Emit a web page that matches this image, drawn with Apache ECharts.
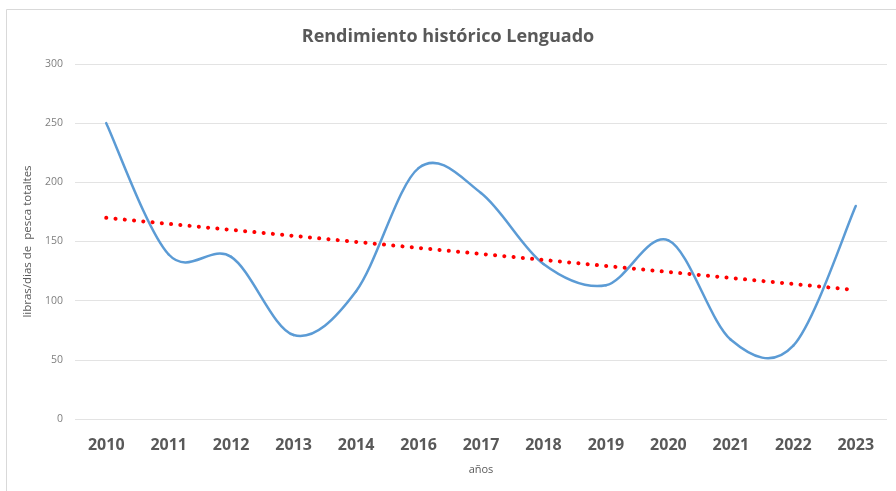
<!DOCTYPE html>
<html>
<head>
<meta charset="utf-8">
<script src="https://cdn.jsdelivr.net/npm/echarts@6/dist/echarts.min.js"></script>
<style>
  html, body { margin: 0; padding: 0; background: #fff; }
  #chart { width: 896px; height: 491px; }
</style>
</head>
<body>
<div id="chart"></div>
<script>
// Data
const years = ['2010', '2011', '2012', '2013', '2014', '2016', '2017', '2018', '2019', '2020', '2021', '2022', '2023'];
const rendimiento = [250, 139, 137, 71, 108, 212, 191, 131, 113, 151, 67, 62, 180];
// linear trend: value at first and last year
const trendEnds = [170, 109];
const yTicks = [0, 50, 100, 150, 200, 250, 300];

const trendData = years.map((y, i) => {
    if (i === 0) return trendEnds[0];
    if (i === years.length - 1) return trendEnds[1];
    return null;
});

// Excel-like smoothed line: one cubic bezier segment per pair of points
function renderSmoothSegment(params, api) {
    const i = params.dataIndex;
    const n = rendimiento.length;
    if (i >= n - 1) return null;
    const pt = k => {
        const j = Math.max(0, Math.min(n - 1, k));
        return api.coord([j, rendimiento[j]]);
    };
    const p0 = pt(i - 1), p1 = pt(i), p2 = pt(i + 1), p3 = pt(i + 2);
    return {
        type: 'bezierCurve',
        shape: {
            x1: p1[0], y1: p1[1],
            x2: p2[0], y2: p2[1],
            cpx1: p1[0] + (p2[0] - p0[0]) / 6,
            cpy1: p1[1] + (p2[1] - p0[1]) / 6,
            cpx2: p2[0] - (p3[0] - p1[0]) / 6,
            cpy2: p2[1] - (p3[1] - p1[1]) / 6
        },
        style: {
            fill: null,
            stroke: '#5b9bd5',
            lineWidth: 2.5,
            lineCap: 'round'
        }
    };
}

const chart = echarts.init(document.getElementById('chart'));

const option = {
    backgroundColor: '#fff',
    animation: false,
    title: {
        text: 'Rendimiento histórico Lenguado',
        left: 'center',
        top: 23,
        textStyle: {
            fontFamily: 'Open Sans',
            fontSize: 18,
            fontWeight: 'bold',
            color: '#595959'
        }
    },
    graphic: [{
        type: 'rect',
        shape: { x: 6.5, y: 9.5, width: 900, height: 500 },
        style: { fill: 'none', stroke: '#d9d9d9', lineWidth: 1 },
        silent: true
    }],
    grid: {
        left: 75,
        right: 9,
        top: 64,
        bottom: 72
    },
    xAxis: {
        type: 'category',
        data: years,
        boundaryGap: true,
        name: 'años',
        nameLocation: 'middle',
        nameGap: 45,
        nameTextStyle: {
            fontFamily: 'Open Sans',
            fontSize: 11,
            color: '#595959'
        },
        axisLine: { show: false },
        axisTick: { show: false },
        axisLabel: {
            margin: 18,
            fontFamily: 'Open Sans',
            fontSize: 16,
            fontWeight: 'bold',
            color: '#595959'
        }
    },
    yAxis: {
        type: 'value',
        min: yTicks[0],
        max: yTicks[yTicks.length - 1],
        interval: 50,
        name: 'libras/dias de  pesca totaltes',
        nameLocation: 'middle',
        nameGap: 34,
        nameTextStyle: {
            fontFamily: 'Open Sans',
            fontSize: 11.5,
            color: '#595959'
        },
        axisLine: { show: false },
        axisTick: { show: false },
        axisLabel: {
            margin: 12,
            fontFamily: 'Open Sans',
            fontSize: 10.5,
            color: '#7f7f7f'
        },
        splitLine: {
            lineStyle: { color: '#e3e3e3', width: 1 }
        }
    },
    series: [
        {
            name: 'Rendimiento',
            type: 'custom',
            data: rendimiento.map((v, i) => [i, v]),
            encode: { x: 0, y: 1 },
            renderItem: renderSmoothSegment,
            z: 2
        },
        {
            name: 'Tendencia',
            type: 'line',
            data: trendData,
            connectNulls: true,
            symbol: 'none',
            lineStyle: {
                color: '#ff0000',
                width: 4,
                type: [0.1, 9.2],
                cap: 'round'
            },
            z: 3
        }
    ]
};

chart.setOption(option);
window.addEventListener('resize', () => chart.resize());
</script>
</body>
</html>
